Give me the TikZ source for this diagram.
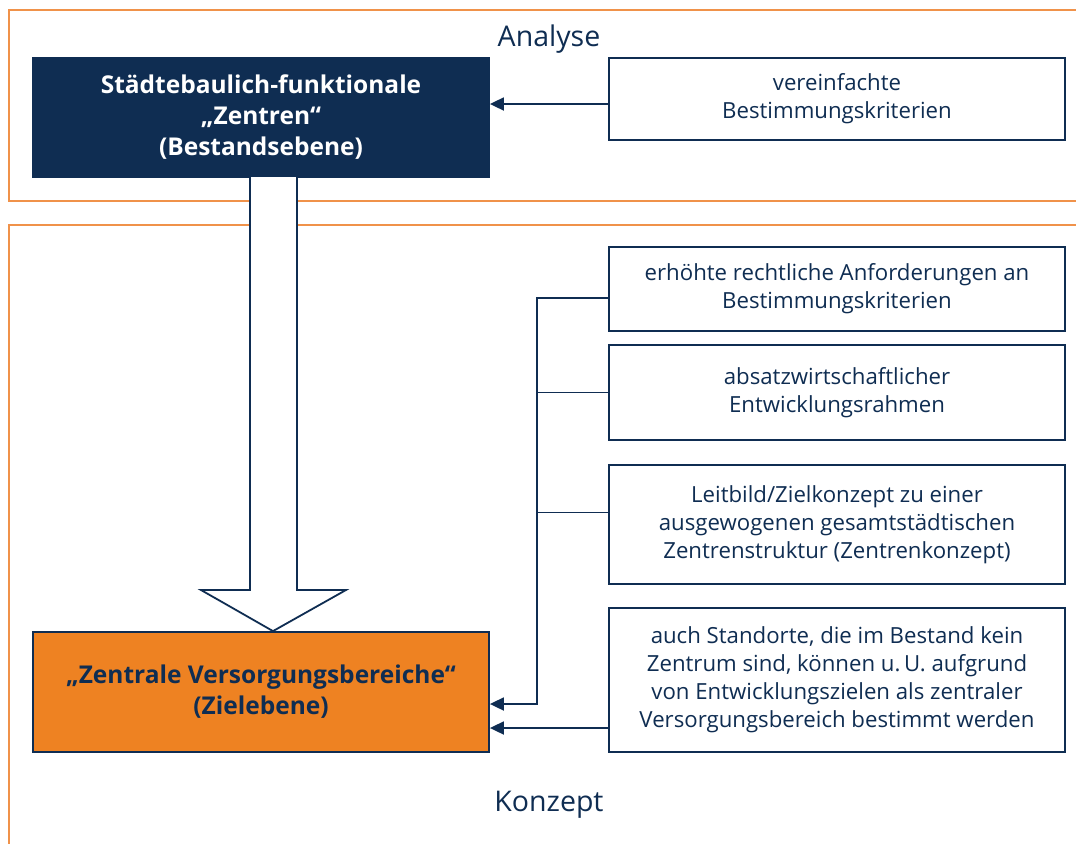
\documentclass[tikz,border=0pt]{standalone}
\usepackage{fontspec}
\setmainfont{Open Sans}
\usetikzlibrary{arrows.meta}
\definecolor{navy}{HTML}{0F2D52}
\definecolor{zorange}{HTML}{EE8222}
\definecolor{frameorange}{HTML}{F0924A}
\tikzset{
  txtbox/.style={draw=navy, line width=1.8pt, fill=white, text=navy, align=center,
    minimum width=456pt, inner sep=0pt, font=\fontsize{22.2}{28}\selectfont},
  mainbox/.style={draw=navy, line width=1.8pt, align=center, minimum width=456pt,
    inner sep=0pt, font=\bfseries\fontsize{24.5}{31}\selectfont},
  arr/.style={draw=navy, line width=1.8pt, -{Triangle[length=14pt,width=13pt]}},
  lnk/.style={draw=navy, line width=1.8pt},
  frame/.style={draw=frameorange, line width=1.6pt},
  caption/.style={text=navy, font=\fontsize{28.5}{32}\selectfont}
}
\begin{document}
\begin{tikzpicture}[x=1pt,y=-1pt]
    \useasboundingbox (0,0) rectangle (1076,844);

    % frames
    \draw[frame] (1076,10) -- (9,10) -- (9,201) -- (1076,201);
    \draw[frame] (1076,225) -- (9,225) -- (9,844);
    \node[caption] (analyse) at (549,39) {Analyse};
    \node[caption] (konzept) at (549,805) {Konzept};

    % main boxes
    \node[mainbox, fill=navy, text=white, minimum height=119pt] (zen) at (261,117.5)
      {Städtebaulich-funktionale\\„Zentren“\\(Bestandsebene)};
    \node[mainbox, fill=zorange, text=navy, minimum height=120pt] (zvb) at (261,692)
      {„Zentrale Versorgungsbereiche“\\(Zielebene)};

    % big arrow
    \draw[lnk, fill=white, line join=miter]
    (250,177) -- (250,590) -- (201,590) -- ([xshift=12pt]zvb.north)
    -- (346,590) -- (297,590) -- (297,177);

    % criteria boxes
    \node[txtbox, minimum height=82pt] (krit) at (837,99)
      {vereinfachte\\Bestimmungskriterien};
    \node[txtbox, minimum height=84pt] (recht) at (837,289)
      {erhöhte rechtliche Anforderungen an\\Bestimmungskriterien};
    \node[txtbox, minimum height=95pt] (absatz) at (837,392.5)
      {absatzwirtschaftlicher\\Entwicklungsrahmen};
    \node[txtbox, minimum height=119pt] (leitbild) at (837,524.5)
      {Leitbild/Zielkonzept zu einer\\ausgewogenen gesamtstädtischen\\Zentrenstruktur (Zentrenkonzept)};
    \node[txtbox, minimum height=144pt] (standort) at (837,680)
      {auch Standorte, die im Bestand kein\\Zentrum sind, können u.\,U. aufgrund\\von Entwicklungszielen als zentraler\\Versorgungsbereich bestimmt werden};

    % connectors
    \draw[arr] ([yshift=-5pt]krit.west) -- ([yshift=-5pt]krit.west -| zen.east);

    \coordinate (bus) at (537,704);
    \draw[arr] ([yshift=-9pt]recht.west) -| (bus) -- (bus -| zvb.east);
    \draw[lnk] (absatz.west) -- (absatz.west -| bus);
    \draw[lnk] ([yshift=12pt]leitbild.west) -- ([yshift=12pt]leitbild.west -| bus);
    \draw[arr] ([yshift=-48pt]standort.west) -- ([yshift=-48pt]standort.west -| zvb.east);
\end{tikzpicture}
\end{document}
